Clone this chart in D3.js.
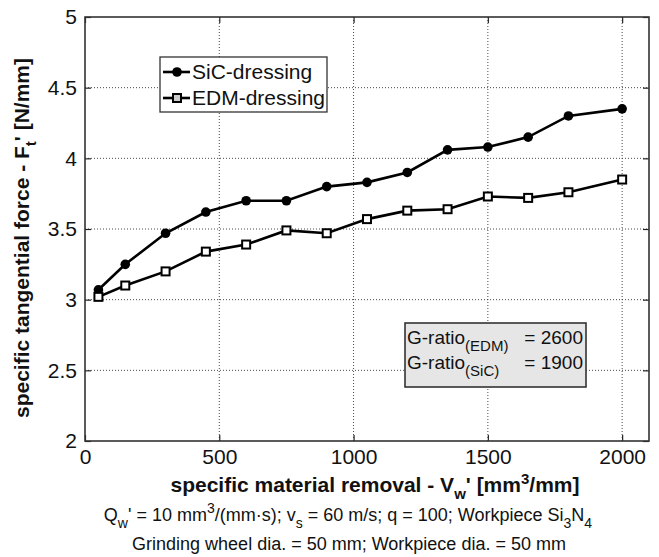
<!DOCTYPE html>
<html>
<head>
<meta charset="UTF-8">
<title>Tangential force</title>
<script src="https://d3js.org/d3.v7.min.js"></script>
<style>
  body { margin: 0; background: #fff; }
  text { font-family: "Liberation Sans", Arial, Helvetica, sans-serif; fill: #111; }
</style>
</head>
<body>
<svg id="chart" width="659" height="557"></svg>
<script>
// data
var removal  = [50, 150, 300, 450, 600, 750, 900, 1050, 1200, 1350, 1500, 1650, 1800, 2000];
var sicForce = [3.07, 3.25, 3.47, 3.62, 3.70, 3.70, 3.80, 3.83, 3.90, 4.06, 4.08, 4.15, 4.30, 4.35];
var edmForce = [3.02, 3.10, 3.20, 3.34, 3.39, 3.49, 3.47, 3.57, 3.63, 3.64, 3.73, 3.72, 3.76, 3.85];
var xTicks = [0, 500, 1000, 1500, 2000];
var yTicks = [2, 2.5, 3, 3.5, 4, 4.5, 5];
var seriesNames = ["SiC-dressing", "EDM-dressing"];

var svg = d3.select("#chart");
// note: "top" is taken by window.top, so use plot* names
var plotL = 85, plotR = 649, plotT = 17, plotB = 441;

var x = d3.scaleLinear().domain([0, 2100]).range([plotL, plotR]);
var y = d3.scaleLinear().domain([2, 5]).range([plotB, plotT]);

// append text made of pieces; sub / sup pieces get shifted
function richText(sel, parts, small) {
  var shift = 0;
  parts.forEach(function(p) {
    var t = sel.append("tspan").text(p[0]);
    var want = p[1] == "sub" ? 7 : (p[1] == "sup" ? -8 : 0);
    if (want != shift) t.attr("dy", want - shift);
    if (p[1]) t.attr("font-size", small);
    shift = want;
  });
}

// dotted grid
svg.append("g").selectAll("line")
  .data(xTicks.slice(1)).enter().append("line")
    .attr("x1", function(d) { return x(d); }).attr("x2", function(d) { return x(d); })
    .attr("y1", plotT).attr("y2", plotB)
    .attr("stroke", "#333").attr("stroke-width", 0.9).attr("stroke-dasharray", "1,2");
svg.append("g").selectAll("line")
  .data(yTicks.slice(1, -1)).enter().append("line")
    .attr("y1", function(d) { return y(d); }).attr("y2", function(d) { return y(d); })
    .attr("x1", plotL).attr("x2", plotR)
    .attr("stroke", "#333").attr("stroke-width", 0.9).attr("stroke-dasharray", "1,2");

// axes with inward ticks, matlab-ish
var fmt = function(d) { return d; };
svg.append("g").attr("transform", "translate(0," + plotB + ")")
  .call(d3.axisBottom(x).tickValues(xTicks).tickFormat(fmt).tickSizeInner(-6).tickSizeOuter(0).tickPadding(8));
svg.append("g").attr("transform", "translate(" + plotL + ",0)")
  .call(d3.axisLeft(y).tickValues(yTicks).tickFormat(fmt).tickSizeInner(-6).tickSizeOuter(0).tickPadding(8));
svg.append("g").attr("transform", "translate(0," + plotT + ")")
  .call(d3.axisTop(x).tickValues(xTicks).tickFormat("").tickSizeInner(-6).tickSizeOuter(0));
svg.append("g").attr("transform", "translate(" + plotR + ",0)")
  .call(d3.axisRight(y).tickValues(yTicks).tickFormat("").tickSizeInner(-6).tickSizeOuter(0));
svg.selectAll(".domain").remove();
svg.selectAll(".tick line").attr("stroke", "#222").attr("stroke-width", 1.2);
svg.selectAll(".tick text").attr("font-size", 21).attr("fill", "#111")
  .attr("font-family", "'Liberation Sans', Arial, sans-serif");

svg.append("rect")
  .attr("x", plotL).attr("y", plotT).attr("width", plotR - plotL).attr("height", plotB - plotT)
  .attr("fill", "none").attr("stroke", "#333").attr("stroke-width", 1.6);

// series
var line = d3.line()
  .x(function(d) { return x(d[0]); })
  .y(function(d) { return y(d[1]); });

var sicPts = d3.zip(removal, sicForce);
var edmPts = d3.zip(removal, edmForce);

[edmPts, sicPts].forEach(function(pts) {
  svg.append("path").datum(pts).attr("d", line)
    .attr("fill", "none").attr("stroke", "#000").attr("stroke-width", 2.6);
});

svg.append("g").selectAll("circle").data(sicPts).enter().append("circle")
  .attr("cx", function(d) { return x(d[0]); }).attr("cy", function(d) { return y(d[1]); })
  .attr("r", 4.8).attr("fill", "#000");

svg.append("g").selectAll("rect").data(edmPts).enter().append("rect")
  .attr("x", function(d) { return x(d[0]) - 4; }).attr("y", function(d) { return y(d[1]) - 4; })
  .attr("width", 8).attr("height", 8)
  .attr("fill", "#fff").attr("stroke", "#000").attr("stroke-width", 2);

// legend
var lg = svg.append("g");
lg.append("rect").attr("x", 160).attr("y", 57).attr("width", 167).attr("height", 55)
  .attr("fill", "#fff").attr("stroke", "#333").attr("stroke-width", 1.3);
seriesNames.forEach(function(name, i) {
  var cy = 72 + i * 26;
  lg.append("line").attr("x1", 163).attr("x2", 190).attr("y1", cy).attr("y2", cy)
    .attr("stroke", "#000").attr("stroke-width", 2.6);
  if (i == 0) {
    lg.append("circle").attr("cx", 177).attr("cy", cy).attr("r", 4.8).attr("fill", "#000");
  } else {
    lg.append("rect").attr("x", 173).attr("y", cy - 4).attr("width", 8).attr("height", 8)
      .attr("fill", "#ccc").attr("stroke", "#000").attr("stroke-width", 2);
  }
  lg.append("text").attr("x", 192).attr("y", cy + 7).attr("font-size", 21).text(name);
});

// G-ratio box
var gb = svg.append("g");
gb.append("rect").attr("x", 405).attr("y", 323).attr("width", 181).attr("height", 64)
  .attr("fill", "#e6e6e6").attr("stroke", "#333").attr("stroke-width", 1.6);
[["(EDM)", "= 2600"], ["(SiC)", "= 1900"]].forEach(function(r, i) {
  var by = 344 + i * 25;
  richText(gb.append("text").attr("x", 407).attr("y", by).attr("font-size", 19),
    [["G-ratio", null], [r[0], "sub"]], 15);
  gb.append("text").attr("x", 583).attr("y", by).attr("font-size", 19)
    .attr("text-anchor", "end").text(r[1]);
});

// axis titles
richText(svg.append("text").attr("x", 375).attr("y", 492)
    .attr("text-anchor", "middle").attr("font-size", 21).attr("font-weight", "bold"),
  [["specific material removal - V", null], ["w", "sub"], ["' [mm", null], ["3", "sup"], ["/mm]", null]], 15);

richText(svg.append("text").attr("transform", "translate(29,238) rotate(-90)")
    .attr("text-anchor", "middle").attr("font-size", 21).attr("font-weight", "bold"),
  [["specific tangential force - F", null], ["t", "sub"], ["' [N/mm]", null]], 15);

// test conditions under the chart
richText(svg.append("text").attr("x", 348).attr("y", 521)
    .attr("text-anchor", "middle").attr("font-size", 18),
  [["Q", null], ["w", "sub"], ["' = 10 mm", null], ["3", "sup"], ["/(mm\u00b7s); v", null], ["s", "sub"],
   [" = 60 m/s; q = 100; Workpiece Si", null], ["3", "sub"], ["N", null], ["4", "sub"]], 14);
svg.append("text").attr("x", 349).attr("y", 550)
  .attr("text-anchor", "middle").attr("font-size", 18)
  .text("Grinding wheel dia. = 50 mm; Workpiece dia. = 50 mm");
</script>
</body>
</html>
